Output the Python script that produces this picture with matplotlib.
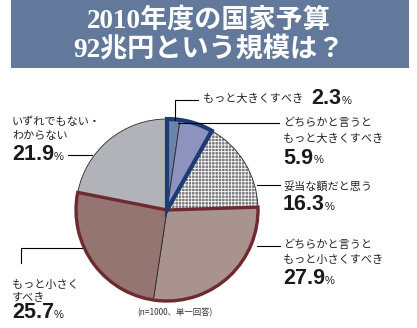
import numpy as np
import matplotlib.pyplot as plt
from matplotlib.patches import Wedge, Rectangle

plt.rcParams['hatch.linewidth'] = 0.6

title_lines = ['2010年度の国家予算', '92兆円という規模は？']
labels = ['もっと大きくすべき', 'どちらかと言うと\nもっと大きくすべき', '妥当な額だと思う',
          'どちらかと言うと\nもっと小さくすべき', 'もっと小さく\nすべき', 'いずれでもない・\nわからない']
values = [2.3, 5.9, 16.3, 27.9, 25.7, 21.9]
colors = ['#6a83a8', '#8e92be', '#77777c', '#a8938f', '#957571', '#b2b3b9']
note = '(n=1000、単一回答)'

W, H = 417, 328
JP = ['Noto Sans CJK JP', 'DejaVu Sans']
SERIF = ['Liberation Serif', 'Noto Sans CJK JP']
NUM = ['Liberation Sans', 'DejaVu Sans']

fig = plt.figure(figsize=(W / 100, H / 100), dpi=100)
ax = fig.add_axes([0, 0, 1, 1])

def Y(y):
    # image coords (top-down) -> axes coords
    return H - y

# title band
ax.add_patch(Rectangle((11, Y(68)), 398, 68, facecolor='#62799b', edgecolor='none', zorder=1))
ax.text(209, Y(21), title_lines[0], family=SERIF, fontweight='bold', fontsize=19.5,
        color='white', ha='center', va='center')
ax.text(209, Y(50), title_lines[1], family=SERIF, fontweight='bold', fontsize=19.5,
        color='white', ha='center', va='center')

cx, cy, r = 167, Y(210), 91
wedges, _ = ax.pie(values, colors=colors, startangle=90, counterclock=False,
                   center=(cx, cy), radius=r,
                   wedgeprops=dict(edgecolor='#2a2a2a', linewidth=0.6))

# checker pattern slice
chk = wedges[2]
chk.set_edgecolor('white')
chk.set_linewidth(0)
chk.set_hatch('+++++')
ax.add_patch(Wedge((cx, cy), r, chk.theta1, chk.theta2, fill=False,
                   edgecolor='#2a2a2a', linewidth=0.6, zorder=3))

# group outlines
cum = np.cumsum([0] + values) / 100 * 360
def group(i0, i1, col, lw):
    a1 = 90 - cum[i1]
    a2 = 90 - cum[i0]
    ax.add_patch(Wedge((cx, cy), r, a1, a2, fill=False, edgecolor=col,
                       linewidth=lw, joinstyle='miter', zorder=4))
group(3, 5, '#6d2b2f', 2.4)
group(0, 2, '#1d3a72', 3.0)

lc = dict(color='black', linewidth=0.8, zorder=5)
def leader(pts):
    xs = [p[0] for p in pts]
    ys = [Y(p[1]) for p in pts]
    ax.plot(xs, ys, **lc)

def block(x, lines, ys, val, vy, pct_dx):
    for t, yy in zip(lines, ys):
        ax.text(x, Y(yy), t, family=JP, fontsize=8, va='center', ha='left', color='#222222')
    ax.text(x, Y(vy), f'{val}', family=NUM, fontweight='bold', fontsize=15.5,
            va='center', ha='left', color='#1a1a1a')
    ax.text(x + pct_dx, Y(vy + 2), '%', family=NUM, fontsize=8, va='center', ha='left',
            color='#1a1a1a')

# 2.3
leader([(175, 120), (175, 100), (198, 100)])
ax.text(203, Y(99), labels[0], family=JP, fontsize=8, va='center', ha='left', color='#222222')
ax.text(311, Y(99), f'{values[0]}', family=NUM, fontweight='bold', fontsize=15.5,
        va='center', ha='left', color='#1a1a1a')
ax.text(342, Y(101), '%', family=NUM, fontsize=8, va='center', ha='left', color='#1a1a1a')

# 5.9
leader([(178, 123), (279, 123)])
block(283, labels[1].split('\n'), [123, 139], values[1], 158, 31)
# 16.3
leader([(257, 185), (280, 185)])
block(283, [labels[2]], [186], values[2], 205, 42)
# 27.9
leader([(257, 246), (280, 246)])
block(283, labels[3].split('\n'), [245, 260], values[3], 279, 42)
# 21.9
leader([(68, 155), (92, 155)])
block(12, labels[5].split('\n'), [122, 136], values[5], 155, 42)
# 25.7
leader([(21, 263), (21, 248), (82, 248)])
block(12, labels[4].split('\n'), [285, 298], values[4], 313, 42)

ax.text(137, Y(313), note, family=JP, fontsize=6, va='center', ha='left', color='#333333')

ax.set_xlim(0, W)
ax.set_ylim(0, H)
ax.set_aspect('equal')
ax.axis('off')
fig.savefig('out.png', dpi=100, facecolor='white')
